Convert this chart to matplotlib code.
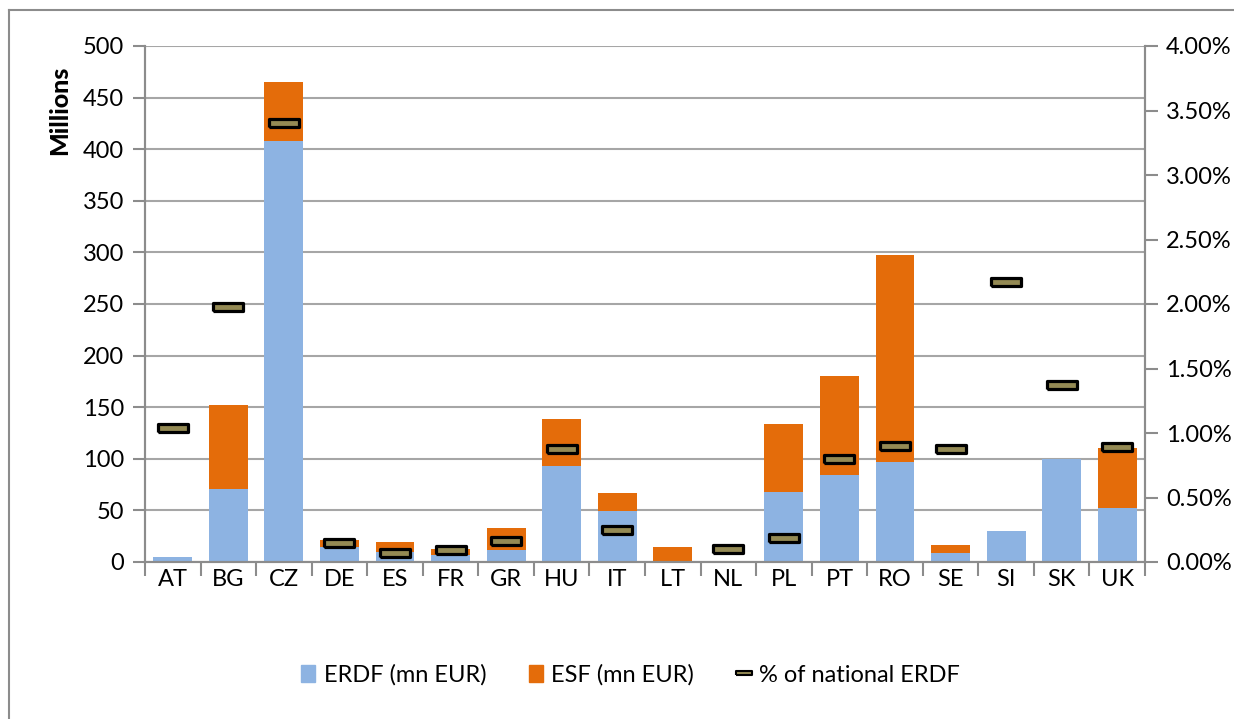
import numpy as np
import matplotlib.pyplot as plt
from matplotlib.lines import Line2D
from matplotlib.ticker import FuncFormatter, MultipleLocator

countries = ["AT", "BG", "CZ", "DE", "ES", "FR", "GR", "HU", "IT", "LT",
             "NL", "PL", "PT", "RO", "SE", "SI", "SK", "UK"]
erdf = [5, 71, 408, 14.5, 10, 7, 12, 93, 49, 0, 0, 68, 84, 97, 9, 30, 100, 52]
esf = [0, 81, 57, 6.5, 9.5, 6, 21, 46, 18, 14.6, 0, 66, 96, 200, 7.5, 0, 0, 58]
pct_national = [1.04, 1.98, 3.40, 0.147, 0.07, 0.093, 0.16, 0.876, 0.248, np.nan,
                0.10, 0.186, 0.80, 0.90, 0.876, 2.17, 1.37, 0.89]

plt.rcParams["font.family"] = ["Lato", "DejaVu Sans"]

ERDF_COL = "#8DB3E2"
ESF_COL = "#E46C0A"
MARK_FILL = "#948A54"
GRID_COL = "#A6A6A6"

fig = plt.figure(figsize=(12.34, 7.19), dpi=100)
ax = fig.add_axes([145 / 1234, 1 - 562 / 719, 1000 / 1234, 516 / 719])
ax2 = ax.twinx()

x = np.arange(len(countries))
ax.bar(x, erdf, width=0.7, color=ERDF_COL, label="ERDF (mn EUR)", zorder=2)
ax.bar(x, esf, width=0.7, bottom=erdf, color=ESF_COL, label="ESF (mn EUR)", zorder=2)

rect = [(-1, -0.25), (1, -0.25), (1, 0.25), (-1, 0.25), (-1, -0.25)]
ax2.plot(x, pct_national, linestyle="none", marker=rect, markersize=21,
         markerfacecolor=MARK_FILL, markeredgecolor="black", markeredgewidth=2.3,
         zorder=3)

ax.set_xlim(-0.5, len(countries) - 0.5)
ax.set_ylim(0, 500)
ax2.set_ylim(0, 4.0)
ax.yaxis.set_major_locator(MultipleLocator(50))
ax2.yaxis.set_major_locator(MultipleLocator(0.5))
ax2.yaxis.set_major_formatter(FuncFormatter(lambda v, p: f"{v:.2f}%"))

ax.grid(axis="y", color=GRID_COL, linewidth=1.5, zorder=0)
ax.set_axisbelow(True)

ax.set_xticks(x)
ax.set_xticklabels(countries)
ax.set_xticks(np.arange(-0.5, len(countries)), minor=True)
ax.tick_params(axis="x", which="major", length=0, pad=5, labelsize=17)
ax.tick_params(axis="x", which="minor", length=10, width=1.5, color="#8C8C8C")
ax.tick_params(axis="y", length=9, width=1.5, color="#8C8C8C", labelsize=17, pad=6)
ax2.tick_params(axis="y", length=9, width=1.5, color="#8C8C8C", labelsize=17, pad=6)

for a in (ax, ax2):
    a.spines["top"].set_visible(False)
    for s in ("left", "right", "bottom"):
        a.spines[s].set_color("#8C8C8C")
        a.spines[s].set_linewidth(1.5)

ax.set_ylabel("Millions", fontsize=18, fontweight="black")
ax.yaxis.set_label_coords(-0.074, 0.875)

handles = [
    plt.Rectangle((0, 0), 1, 1, color=ERDF_COL),
    plt.Rectangle((0, 0), 1, 1, color=ESF_COL),
    Line2D([], [], linestyle="none", marker=rect, markersize=11,
           markerfacecolor=MARK_FILL, markeredgecolor="black", markeredgewidth=1.5),
]
fig.legend(handles, ["ERDF (mn EUR)", "ESF (mn EUR)", "% of national ERDF"],
           loc="center", bbox_to_anchor=(0.511, 1 - 675 / 719), ncol=3,
           frameon=False, fontsize=17, handlelength=0.6, handleheight=0.7,
           columnspacing=1.8, handletextpad=0.35)

# chart frame
fig.add_artist(Line2D([9 / 1234, 9 / 1234], [0, 1 - 10 / 719],
                      transform=fig.transFigure, color="#8C8C8C", linewidth=1.5))
fig.add_artist(Line2D([9 / 1234, 1], [1 - 10 / 719, 1 - 10 / 719],
                      transform=fig.transFigure, color="#8C8C8C", linewidth=1.5))

fig.savefig("out.png", dpi=100)
